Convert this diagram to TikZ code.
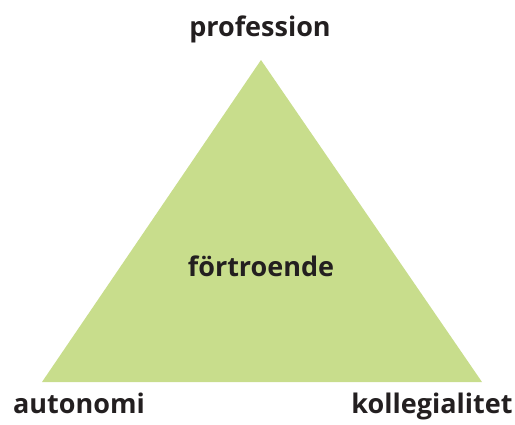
\documentclass[tikz,border=0pt]{standalone}
\usepackage{fontspec}
\setmainfont{Open Sans}[BoldFont={Open Sans Bold}]
\definecolor{tri}{HTML}{C8DD8C}
\definecolor{txt}{HTML}{231F20}
\begin{document}
\begin{tikzpicture}[x=1pt,y=-1pt,
  lbl/.style={font=\fontsize{27}{32}\selectfont\bfseries, text=txt, inner sep=0pt, anchor=base}]
\useasboundingbox (0,0) rectangle (515,424);
\coordinate (top) at (261,60);
\coordinate (bl) at (42,382);
\coordinate (br) at (482,382);
\fill[tri] (top) -- (bl) -- (br) -- cycle;
\node[lbl] (p) at (260,36) {profession};
\node[lbl] (c) at (261,276) {förtroende};
\node[lbl] (a) at (79,413) {autonomi};
\node[lbl] (k) at (432,413) {kollegialitet};
\end{tikzpicture}
\end{document}
